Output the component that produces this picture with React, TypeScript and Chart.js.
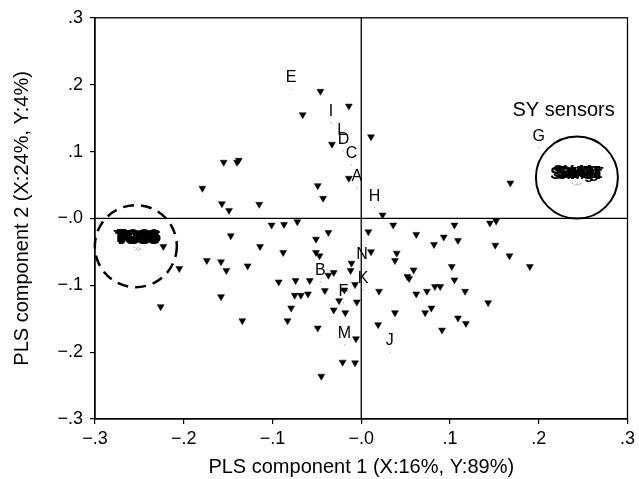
import React, { useEffect, useRef } from "react";
import { Chart, registerables } from "chart.js";

Chart.register(...registerables);

// ---- Data (PLS component 1 / component 2 loadings) ----
const TRI_X = [
  -0.046, -0.066, -0.014, -0.033, 0.011, -0.155, -0.140, -0.014, -0.049, -0.043,
  -0.179, -0.157, -0.115, -0.149, 0.168, 0.024, -0.101, -0.087, -0.072, -0.147,
  -0.114, -0.051, -0.037, -0.088, -0.051, -0.047, -0.223, -0.174, -0.158, -0.205,
  -0.152, -0.128, -0.093, -0.074, -0.058, -0.037, -0.031, -0.011, -0.012, -0.041,
  -0.007, -0.019, -0.158, -0.075, -0.068, -0.060, -0.025, -0.005, -0.079, -0.031,
  -0.018, -0.226, -0.134, -0.083, -0.049, -0.006, -0.021, -0.007, -0.045, 0.008,
  0.036, 0.105, 0.145, 0.152, 0.062, 0.093, 0.082, 0.109, 0.151, 0.167,
  0.190, 0.011, 0.040, 0.038, 0.059, 0.052, 0.054, 0.102, 0.105, 0.020,
  0.062, 0.074, 0.083, 0.089, 0.117, 0.143, 0.038, 0.072, 0.079, 0.109,
  0.118, 0.019, 0.091, -0.138,
];
const TRI_Y = [
  0.190, 0.155, 0.168, 0.111, 0.122, 0.084, 0.084, 0.060, 0.049, 0.030,
  0.045, 0.022, 0.021, 0.012, 0.053, 0.005, -0.010, -0.009, -0.005, -0.026,
  -0.042, -0.031, -0.021, -0.051, -0.051, -0.056, -0.042, -0.063, -0.065, -0.075,
  -0.078, -0.071, -0.095, -0.093, -0.093, -0.085, -0.081, -0.067, -0.078, -0.108,
  -0.099, -0.107, -0.117, -0.115, -0.115, -0.113, -0.123, -0.125, -0.134, -0.137,
  -0.141, -0.132, -0.153, -0.153, -0.164, -0.180, -0.215, -0.216, -0.236, -0.020,
  -0.010, -0.010, -0.007, -0.004, -0.024, -0.028, -0.039, -0.033, -0.040, -0.056,
  -0.072, -0.050, -0.052, -0.063, -0.077, -0.087, -0.090, -0.072, -0.092, -0.109,
  -0.113, -0.109, -0.102, -0.102, -0.109, -0.126, -0.141, -0.141, -0.134, -0.149,
  -0.157, -0.159, -0.167, 0.087,
];

const LETTERS = ["A", "B", "C", "D", "E", "F", "G", "H", "I", "J", "K", "L", "M", "N"];
const LETTER_X = [-0.005, -0.046, -0.011, -0.020, -0.079, -0.020, 0.200, 0.015, -0.034, 0.032, 0.002, -0.022, -0.019, 0.001];
const LETTER_Y = [0.045, -0.095, 0.080, 0.101, 0.193, -0.126, 0.106, 0.016, 0.143, -0.200, -0.107, 0.114, -0.189, -0.071];

const TGS_LABELS = ["TGS2", "TGS8", "TGS5", "TGS6", "TGS0", "TGS3", "TGS4"];
const TGS_X = [-0.2555, -0.2530, -0.2510, -0.2490, -0.2540, -0.2520, -0.2500];
const TGS_Y = [-0.0440, -0.0455, -0.0470, -0.0450, -0.0475, -0.0430, -0.0465];

const SY_LABELS = ["SY-M", "SY-G", "SnMg", "SnGT", "SY-At", "SnMgT"];
const SY_X = [0.2380, 0.2410, 0.2435, 0.2455, 0.2475, 0.2430];
const SY_Y = [0.0525, 0.0505, 0.0515, 0.0510, 0.0520, 0.0500];

const X_TICKS = [-0.3, -0.2, -0.1, 0, 0.1, 0.2, 0.3];
const X_TICK_LABELS = ["\u2212.3", "\u2212.2", "\u2212.1", "\u2212.0", ".1", ".2", ".3"];
const Y_TICKS = [-0.3, -0.2, -0.1, 0, 0.1, 0.2, 0.3];
const Y_TICK_LABELS = ["\u2212.3", "\u2212.2", "\u2212.1", "\u2212.0", ".1", ".2", ".3"];

const X_TITLE = "PLS component 1 (X:16%, Y:89%)";
const Y_TITLE = "PLS component 2 (X:24%, Y:4%)";
const SY_NOTE = "SY sensors";

const FONT = "'Liberation Sans', Arial, Helvetica, sans-serif";

const decorPlugin = {
  id: "decor",
  beforeDatasetsDraw(chart: any) {
    const { ctx, chartArea: a, scales } = chart;
    const xs = scales.x, ys = scales.y;
    ctx.save();
    ctx.strokeStyle = "#000";
    ctx.lineWidth = 1.3;
    ctx.strokeRect(a.left, a.top, a.right - a.left, a.bottom - a.top);
    const x0 = xs.getPixelForValue(0);
    const y0 = ys.getPixelForValue(0);
    ctx.beginPath();
    ctx.moveTo(x0, a.top);
    ctx.lineTo(x0, a.bottom);
    ctx.moveTo(a.left, y0);
    ctx.lineTo(a.right, y0);
    ctx.stroke();
    ctx.restore();
  },
  afterDatasetsDraw(chart: any) {
    const { ctx, scales } = chart;
    const xs = scales.x, ys = scales.y;
    ctx.save();
    ctx.fillStyle = "#000";
    ctx.textAlign = "center";
    ctx.textBaseline = "alphabetic";
    ctx.font = `16px ${FONT}`;
    LETTERS.forEach((l, i) => {
      const px = xs.getPixelForValue(LETTER_X[i]);
      const py = ys.getPixelForValue(LETTER_Y[i]);
      ctx.fillText(l, px, py - 7);
    });
    ctx.font = `bold 16px ${FONT}`;
    TGS_LABELS.forEach((l, i) => {
      const px = xs.getPixelForValue(TGS_X[i]);
      const py = ys.getPixelForValue(TGS_Y[i]);
      ctx.fillText(l, px, py - 6);
    });
    SY_LABELS.forEach((l, i) => {
      const px = xs.getPixelForValue(SY_X[i]);
      const py = ys.getPixelForValue(SY_Y[i]);
      ctx.fillText(l, px, py - 6);
    });
    ctx.font = `20px ${FONT}`;
    ctx.fillText(SY_NOTE, xs.getPixelForValue(0.228), ys.getPixelForValue(0.153));
    const r = 41;
    ctx.lineWidth = 2;
    ctx.strokeStyle = "#000";
    ctx.beginPath();
    ctx.setLineDash([]);
    ctx.arc(xs.getPixelForValue(0.243), ys.getPixelForValue(0.061), r, 0, Math.PI * 2);
    ctx.stroke();
    ctx.beginPath();
    ctx.lineWidth = 2.5;
    ctx.setLineDash([11, 7]);
    ctx.arc(xs.getPixelForValue(-0.254), ys.getPixelForValue(-0.0415), r, 0, Math.PI * 2);
    ctx.stroke();
    ctx.restore();
  },
};

export default function App() {
  const ref = useRef<HTMLCanvasElement | null>(null);
  useEffect(() => {
    document.body.style.margin = "0";
    if (!ref.current) return;
    const tri = TRI_X.map((x, i) => ({ x, y: TRI_Y[i] }));
    const dots = [
      ...LETTER_X.map((x, i) => ({ x, y: LETTER_Y[i] })),
      ...TGS_X.map((x, i) => ({ x, y: TGS_Y[i] })),
      ...SY_X.map((x, i) => ({ x, y: SY_Y[i] })),
    ];
    const chart = new Chart(ref.current, {
      type: "scatter",
      data: {
        datasets: [
          {
            label: "samples",
            data: tri,
            pointStyle: "triangle",
            rotation: 180,
            pointRadius: 4,
            backgroundColor: "#000",
            borderColor: "#000",
            borderWidth: 0.5,
          },
          {
            label: "variables",
            data: dots,
            pointStyle: "circle",
            pointRadius: 0.7,
            backgroundColor: "#aaa",
            borderWidth: 0,
          },
        ],
      },
      options: {
        animation: false,
        responsive: false,
        events: [],
        layout: { padding: { top: 17, right: 4, left: 0, bottom: 0 } },
        plugins: { legend: { display: false }, tooltip: { enabled: false } },
        scales: {
          x: {
            type: "linear",
            min: -0.3,
            max: 0.3,
            afterBuildTicks: (s: any) => {
              s.ticks = X_TICKS.map((v) => ({ value: v }));
            },
            afterFit: (s: any) => {
              s.height = 60;
            },
            ticks: {
              autoSkip: false,
              maxRotation: 0,
              color: "#000",
              padding: 4,
              font: { family: FONT, size: 18 },
              callback: (_v: any, i: number) => X_TICK_LABELS[i],
            },
            grid: { drawOnChartArea: false, drawTicks: true, tickLength: 5, color: "#000", lineWidth: 1.2 },
            border: { display: true, color: "#000", width: 1.3 },
            title: {
              display: true,
              text: X_TITLE,
              color: "#000",
              font: { family: FONT, size: 20 },
              padding: { top: 6, bottom: 0 },
            },
          },
          y: {
            type: "linear",
            min: -0.3,
            max: 0.3,
            afterBuildTicks: (s: any) => {
              s.ticks = Y_TICKS.map((v) => ({ value: v }));
            },
            afterFit: (s: any) => {
              s.width = 95;
            },
            ticks: {
              autoSkip: false,
              color: "#000",
              padding: 7,
              font: { family: FONT, size: 18 },
              callback: (_v: any, i: number) => Y_TICK_LABELS[i],
            },
            grid: { drawOnChartArea: false, drawTicks: true, tickLength: 5, color: "#000", lineWidth: 1.2 },
            border: { display: true, color: "#000", width: 1.3 },
            title: {
              display: true,
              text: Y_TITLE,
              color: "#000",
              font: { family: FONT, size: 20 },
              padding: { top: 10, bottom: 0 },
            },
          },
        },
      },
      plugins: [decorPlugin],
    });
    return () => chart.destroy();
  }, []);
  return (
    <div style={{ width: 639, height: 479 }}>
      <canvas ref={ref} width={639} height={479} style={{ display: "block" }} />
    </div>
  );
}
